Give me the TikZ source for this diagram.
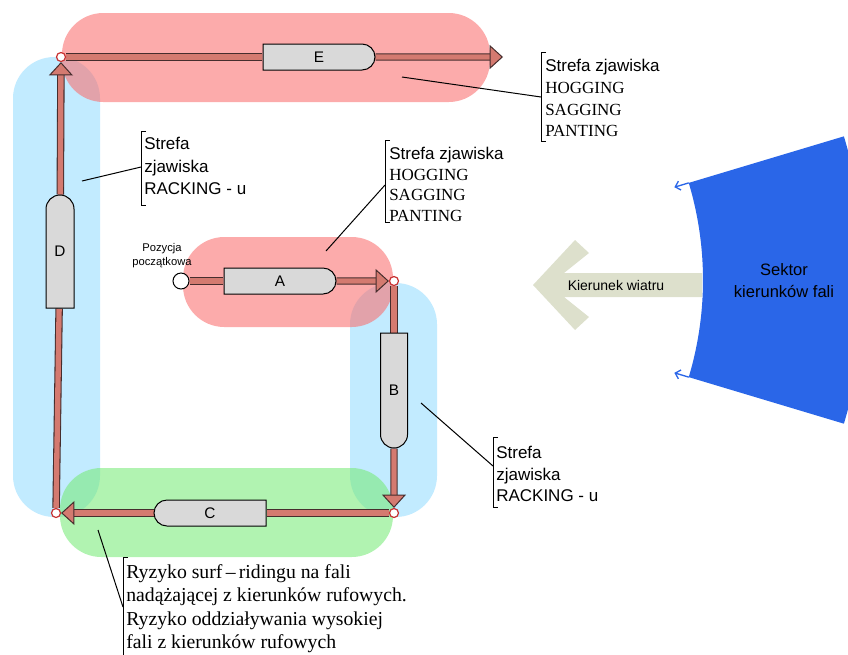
\documentclass[tikz,border=0pt]{standalone}
\usepackage{fontspec}
\setmainfont{Liberation Serif}
\setsansfont{Liberation Sans}
\usetikzlibrary{arrows.meta,shapes.misc,calc}
\definecolor{arrowred}{RGB}{212,122,112}
\definecolor{arrowline}{RGB}{70,45,45}
\definecolor{boxgray}{RGB}{217,217,217}
\definecolor{zred}{RGB}{250,110,110}
\definecolor{zblue}{RGB}{150,220,255}
\definecolor{zgreen}{RGB}{120,235,120}
\definecolor{windc}{RGB}{221,224,204}
\definecolor{sectorblue}{RGB}{42,102,232}
\definecolor{cornerred}{RGB}{200,50,50}
\pgfdeclarelayer{zonelayer}
\pgfdeclarelayer{arrowlayer}
\pgfsetlayers{zonelayer,arrowlayer,main}
\begin{document}
\begin{tikzpicture}[x=0.75pt,y=-0.75pt,
 zone/.style={fill opacity=0.58, rounded corners=31pt},
 arrowout/.style={line width=5.6pt, draw=arrowline},
 arrowin/.style={line width=4pt, draw=arrowred},
 tipped/.style={-{Triangle[width=18pt,length=10pt,fill=arrowred,color=arrowline,line width=0.75pt]}},
 shortout/.style={shorten >=9pt},
 boxshape/.style={rounded rectangle, draw=black, line width=0.75pt, fill=boxgray, inner sep=0pt},
 boxlabel/.style={font=\sffamily\fontsize{11.5}{13}\selectfont, inner sep=0pt},
 corner/.style={circle, draw=cornerred, line width=0.9pt, fill=white, minimum size=6.75pt, inner sep=0pt},
 leader/.style={draw=black, line width=0.75pt},
 bracket/.style={draw=black, line width=0.75pt},
 note/.style={align=left, anchor=north west, inner sep=0pt}
]
\useasboundingbox (0,0) rectangle (848,654);

% zones
\begin{pgfonlayer}{zonelayer}
\fill[zone, zblue] (13,57) rectangle (100,517);
\fill[zone, zblue] (350,283) rectangle (437,517);
\fill[zone, zred] (62,13) rectangle (490,102);
\fill[zone, zred] (183,237) rectangle (393,327);
\fill[zone, zgreen] (60,468) rectangle (393,557);
\end{pgfonlayer}

% wind arrow
\fill[windc] (533,285) -- (575,240) -- (589,253) -- (564,273) -- (702,273) -- (702,297)
  -- (564,297) -- (589,317) -- (575,330) -- cycle;
\node[font=\sffamily\fontsize{10.5}{12}\selectfont, inner sep=0pt] (wt) at (616,285) {Kierunek wiatru};

% wave sector
\coordinate (O) at (365,280);
\fill[sectorblue] ($(O)+(-16.7:338)$) arc[start angle=-16.7, end angle=16.7, radius=338]
  -- ($(O)+(16.7:500)$) arc[start angle=16.7, end angle=-16.7, radius=500] -- cycle;
\coordinate (st1) at ($(O)+(-16.7:338)$);
\coordinate (st2) at ($(O)+(-16.7:323)$);
\coordinate (sb1) at ($(O)+(16.7:338)$);
\coordinate (sb2) at ($(O)+(16.7:323)$);
\draw[sectorblue, line width=1pt, -{Straight Barb[length=3.5pt,width=7pt]}] (st1) -- (st2);
\draw[sectorblue, line width=1pt, -{Straight Barb[length=3.5pt,width=7pt]}] (sb1) -- (sb2);
\node[align=center, font=\sffamily\fontsize{12.4}{16.5}\selectfont] (sek) at (784,281) {Sektor\\kierunków fali};

% boxes
\node[boxshape, rounded rectangle left arc=none, minimum width=84pt, minimum height=19.5pt] (A) at (280,281) {};
\node[boxshape, rounded rectangle left arc=none, minimum width=86.25pt, minimum height=20.25pt, rotate=-90] (B) at (394,390.5) {};
\node[boxshape, rounded rectangle right arc=none, minimum width=84pt, minimum height=19.5pt] (C) at (210,513) {};
\node[boxshape, rounded rectangle left arc=none, minimum width=84.75pt, minimum height=21pt, rotate=90] (D) at (60,251.5) {};
\node[boxshape, rounded rectangle left arc=none, minimum width=84pt, minimum height=19.5pt] (E) at (319,57) {};
\node[boxlabel] (lA) at (A) {A};
\node[boxlabel] (lB) at (B) {B};
\node[boxlabel] (lC) at (C) {C};
\node[boxlabel] (lD) at (D) {D};
\node[boxlabel] (lE) at (E) {E};

% start and corners
\node[circle, draw=black, line width=0.75pt, fill=white, minimum size=12pt, inner sep=0pt] (S) at (181,281) {};
\node[corner] (c1) at (394,281) {};
\node[corner] (c2) at (394,513) {};
\node[corner] (c3) at (56,513) {};
\node[corner] (c4) at (61,57) {};
\coordinate (F) at (503,57);
\node[align=center, font=\sffamily\fontsize{8.4}{10.5}\selectfont, inner sep=0pt] (poz) at (162,256) {Pozycja\\początkowa};

% route arrows
\begin{pgfonlayer}{arrowlayer}
\draw[arrowout] (S) -- (A);
\draw[arrowout] (c1) -- (B);
\draw[arrowout] (c2) -- (C);
\draw[arrowout] (c3) -- (D);
\draw[arrowout] (c4) -- (E);
\draw[arrowout, shortout] (A) -- (c1);
\draw[arrowout, shortout] (B) -- (c2);
\draw[arrowout, shortout] (C) -- (c3);
\draw[arrowout, shortout] (D) -- (c4);
\draw[arrowout, shortout] (E) -- (F);
\draw[arrowin] (S) -- (A);
\draw[arrowin] (c1) -- (B);
\draw[arrowin] (c2) -- (C);
\draw[arrowin] (c3) -- (D);
\draw[arrowin] (c4) -- (E);
\draw[arrowin, tipped] (A) -- (c1);
\draw[arrowin, tipped] (B) -- (c2);
\draw[arrowin, tipped] (C) -- (c3);
\draw[arrowin, tipped] (D) -- (c4);
\draw[arrowin, tipped] (E) -- (F);
\end{pgfonlayer}

% annotation: E
\coordinate (lE1) at (402,77);
\coordinate (lE2) at (541,97);
\draw[leader] (lE1) -- (lE2);
\draw[bracket] (546,52) -- (541,52) -- (541,141) -- (546,141);
\node[note, font=\fontsize{12.75}{16.3}\selectfont] (tE) at (545,59)
  {\textsf{Strefa zjawiska}\\HOGGING\\SAGGING\\PANTING};

% annotation: A
\coordinate (lA1) at (326,251);
\coordinate (lA2) at (385,185);
\draw[leader] (lA1) -- (lA2);
\draw[bracket] (390,140) -- (385,140) -- (385,222) -- (390,222);
\node[note, font=\fontsize{12.75}{15.5}\selectfont] (tA) at (389,147)
  {\textsf{Strefa zjawiska}\\HOGGING\\SAGGING\\PANTING};

% annotation: D
\coordinate (lD1) at (82,181);
\coordinate (lD2) at (141,167);
\draw[leader] (lD1) -- (lD2);
\draw[bracket] (146,131) -- (141,131) -- (141,205) -- (146,205);
\node[note, font=\sffamily\fontsize{12.75}{16.9}\selectfont] (tD) at (144,137)
  {Strefa\\zjawiska\\RACKING - u};

% annotation: B
\coordinate (lB1) at (421,403);
\coordinate (lB2) at (493,466);
\draw[leader] (lB1) -- (lB2);
\draw[bracket] (498,437) -- (493,437) -- (493,507) -- (498,507);
\node[note, font=\sffamily\fontsize{12.75}{16.1}\selectfont] (tB) at (496,446)
  {Strefa\\zjawiska\\RACKING - u};

% annotation: C
\coordinate (lC1) at (98,530);
\coordinate (lC2) at (123,607);
\draw[leader] (lC1) -- (lC2);
\draw[bracket] (128,557) -- (123,557) -- (123,662);
\node[note, font=\fontsize{14.8}{17.6}\selectfont] (tC) at (126,564)
  {Ryzyko surf\,–\,ridingu na fali\\nadążającej z kierunków rufowych.\\Ryzyko oddziaływania wysokiej\\fali z kierunków rufowych};
\end{tikzpicture}
\end{document}
